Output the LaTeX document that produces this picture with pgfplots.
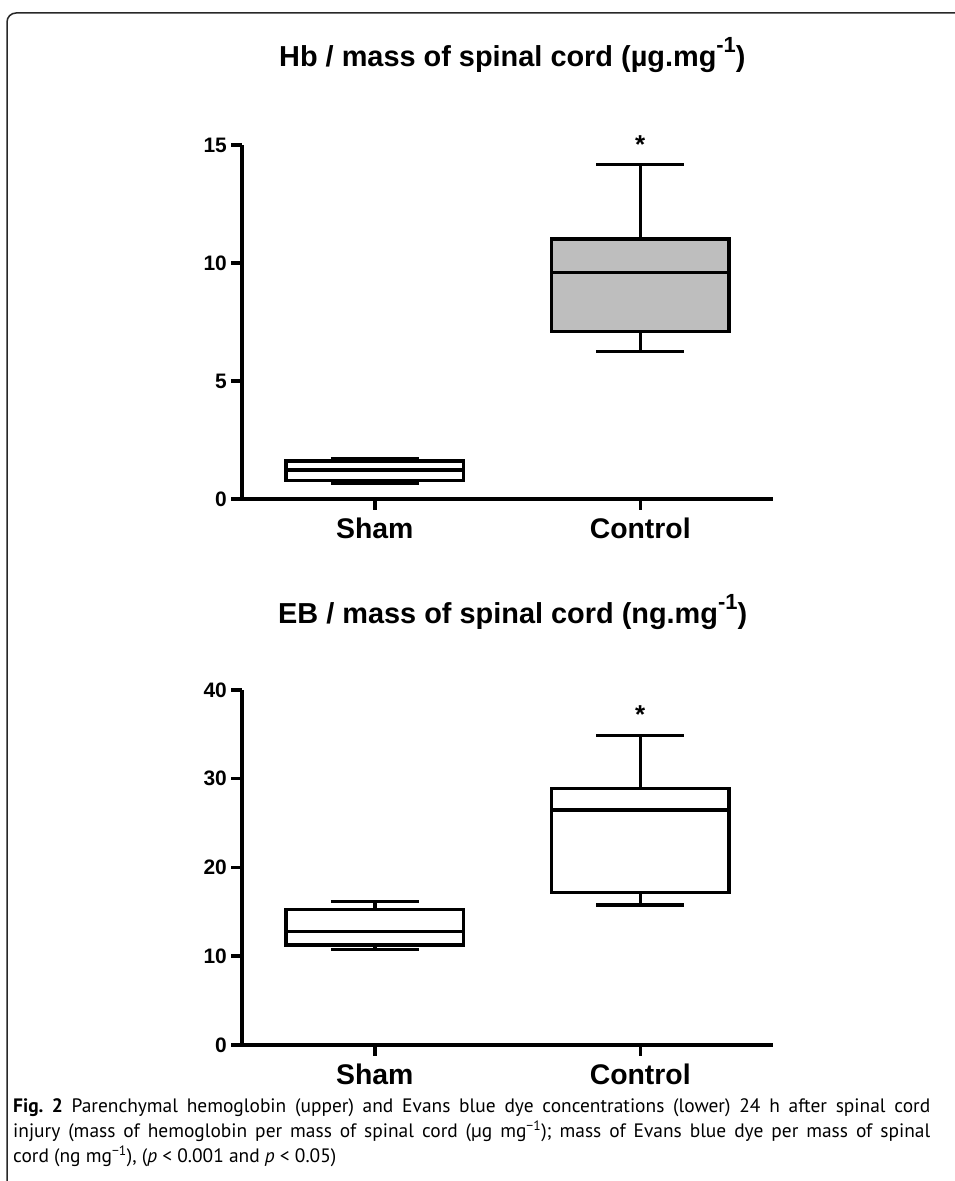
\documentclass[border=0pt]{standalone}
\usepackage{pgfplots}
\pgfplotsset{compat=1.18}
\usepgfplotslibrary{statistics}
\usepackage{fontspec}
\setmainfont{Liberation Sans}
\newfontfamily\capfont{PT Sans}
\definecolor{boxgray}{RGB}{190,190,190}
\definecolor{framegray}{RGB}{40,40,40}

\pgfplotsset{myax/.style={
  scale only axis, width=531bp, height=354bp,
  axis x line*=bottom, axis y line*=left,
  axis line style={line width=3.5bp,-},
  xmin=0.5, xmax=2.5, xtick={1,2}, xticklabels={Sham,Control},
  ymin=0,
  tick align=outside, major tick length=11bp,
  every tick/.style={black, line width=3.5bp},
  /pgf/number format/assume math mode=true,
  yticklabel style={font=\bfseries\fontsize{21}{21}\selectfont, inner sep=4bp},
  xticklabel style={font=\bfseries\fontsize{28.5}{28.5}\selectfont, inner sep=8bp},
  boxplot/draw direction=y,
  clip=false,
}}

\newcommand{\bigsup}[1]{\raisebox{0.5em}{\fontsize{22}{22}\selectfont #1}}

\begin{document}
\begin{tikzpicture}[x=1bp,y=1bp]
\path[use as bounding box] (0,0) rectangle (955,1181);
% frame
\draw[framegray, line width=1.5bp, rounded corners=9bp] (956,1168) -- (7,1168) -- (7,-1);

% titles
\node[anchor=base west, inner sep=0pt, font=\bfseries\fontsize{29}{29}\selectfont] at (279,1114) {Hb / mass of spinal cord (µg.mg\bigsup{-1})};
\node[anchor=base west, inner sep=0pt, font=\bfseries\fontsize{29}{29}\selectfont] at (278,557) {EB / mass of spinal cord (ng.mg\bigsup{-1})};

% top axis
\begin{axis}[myax, at={(242bp,682bp)}, anchor=south west, ymax=15, ytick={0,5,10,15}]
\addplot[draw=black, line width=3.5bp, fill=white, boxplot prepared={
  median=1.23, upper quartile=1.62, lower quartile=0.78,
  upper whisker=1.72, lower whisker=0.66,
  draw position=1, box extend=0.67, whisker extend=0.33}] coordinates {};
\addplot[draw=black, line width=3.5bp, fill=boxgray, boxplot prepared={
  median=9.6, upper quartile=11.02, lower quartile=7.09,
  upper whisker=14.18, lower whisker=6.24,
  draw position=2, box extend=0.67, whisker extend=0.33}] coordinates {};
\node[font=\bfseries\fontsize{26}{26}\selectfont] at (axis cs:2,15.0) {*};
\end{axis}

% bottom axis
\begin{axis}[myax, height=355bp, at={(242bp,136bp)}, anchor=south west, ymax=40, ytick={0,10,20,30,40}]
\addplot[draw=black, line width=3.5bp, fill=white, boxplot prepared={
  median=12.77, upper quartile=15.29, lower quartile=11.27,
  upper whisker=16.15, lower whisker=10.78,
  draw position=1, box extend=0.67, whisker extend=0.33}] coordinates {};
\addplot[draw=black, line width=3.5bp, fill=white, boxplot prepared={
  median=26.48, upper quartile=28.92, lower quartile=17.16,
  upper whisker=34.85, lower whisker=15.77,
  draw position=2, box extend=0.67, whisker extend=0.33}] coordinates {};
\node[font=\bfseries\fontsize{26}{26}\selectfont] at (axis cs:2,37.2) {*};
\end{axis}

% caption
\begin{scope}[every node/.style={inner sep=0pt, anchor=base west}]
\capfont\fontsize{19.5}{24}\selectfont\frenchspacing
\node at (13,68) {\makebox[917bp][s]{\textbf{Fig. 2} Parenchymal hemoglobin (upper) and Evans blue dye concentrations (lower) 24 h after spinal cord}};
\node at (13,43) {\makebox[917bp][s]{injury (mass of hemoglobin per mass of spinal cord (µg mg\textsuperscript{−1}); mass of Evans blue dye per mass of spinal}};
\node at (13,18) {cord (ng mg\textsuperscript{−1}), (\textit{p} < 0.001 and \textit{p} < 0.05)};
\end{scope}
\end{tikzpicture}
\end{document}
